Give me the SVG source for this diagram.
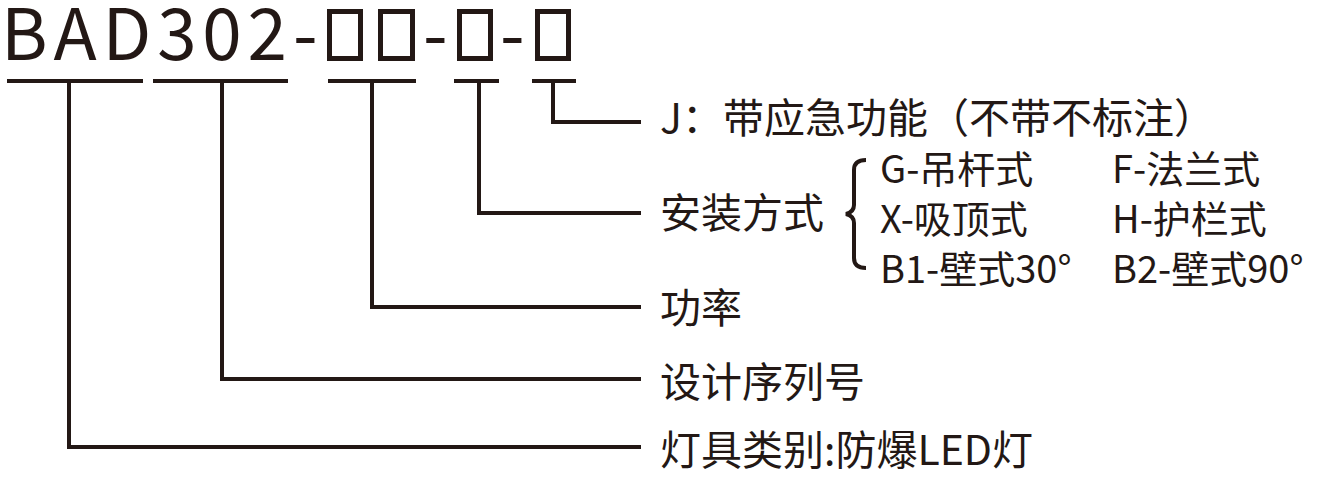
<svg xmlns="http://www.w3.org/2000/svg" width="1341" height="489" viewBox="0 0 1341 489">
<style>
.t{font-family:"Noto Sans CJK SC","Noto Sans",sans-serif;fill:#231815}
.title{font-size:71px}
.lbl{font-size:41px}
.opt{font-size:38px}
.ln{fill:none;stroke:#231815;stroke-width:4;stroke-linejoin:miter;stroke-linecap:butt}
.box{fill:none;stroke:#231815;stroke-width:5}
</style>
<rect width="1341" height="489" fill="#ffffff"/>
<g id="title">
<text class="t title" x="1" y="60" textLength="286" lengthAdjust="spacing">BAD302</text>
<text class="t title" x="293" y="60">-</text>
<rect class="box" x="329.5" y="11.5" width="31" height="47"/>
<rect class="box" x="380.5" y="11.5" width="32" height="47"/>
<text class="t title" x="423" y="60">-</text>
<rect class="box" x="459.5" y="11.5" width="31" height="47"/>
<text class="t title" x="500" y="60">-</text>
<rect class="box" x="537.5" y="11.5" width="31" height="47"/>
</g>
<g id="connectors">
<path class="ln" d="M7,81H143M153,81H288M328,81H416M454,81H499M532,81H576"/>
<path class="ln" d="M553,81V122H641"/>
<path class="ln" d="M479,81V213H641"/>
<path class="ln" d="M372,81V307H641"/>
<path class="ln" d="M222,81V379H641"/>
<path class="ln" d="M69,81V447H641"/>
<path class="ln" d="M866,160Q854,160 854,170L854,205Q854,212 846,214Q854,216 854,223L854,258Q854,268 866,268"/>
</g>
<g id="node-emergency">
<text class="t lbl" x="660" y="133">J：带应急功能（不带不标注）</text>
</g>
<g id="node-install">
<text class="t lbl" x="660" y="228">安装方式</text>
<text class="t opt" x="880" y="183">G-吊杆式</text>
<text class="t opt" x="1112" y="183">F-法兰式</text>
<text class="t opt" x="880" y="233">X-吸顶式</text>
<text class="t opt" x="1112" y="233">H-护栏式</text>
<text class="t opt" x="880" y="283">B1-壁式30°</text>
<text class="t opt" x="1112" y="283">B2-壁式90°</text>
</g>
<g id="node-power">
<text class="t lbl" x="660" y="323">功率</text>
</g>
<g id="node-series">
<text class="t lbl" x="660" y="397">设计序列号</text>
</g>
<g id="node-type">
<text class="t lbl" x="660" y="465">灯具类别:防爆LED灯</text>
</g>
</svg>
